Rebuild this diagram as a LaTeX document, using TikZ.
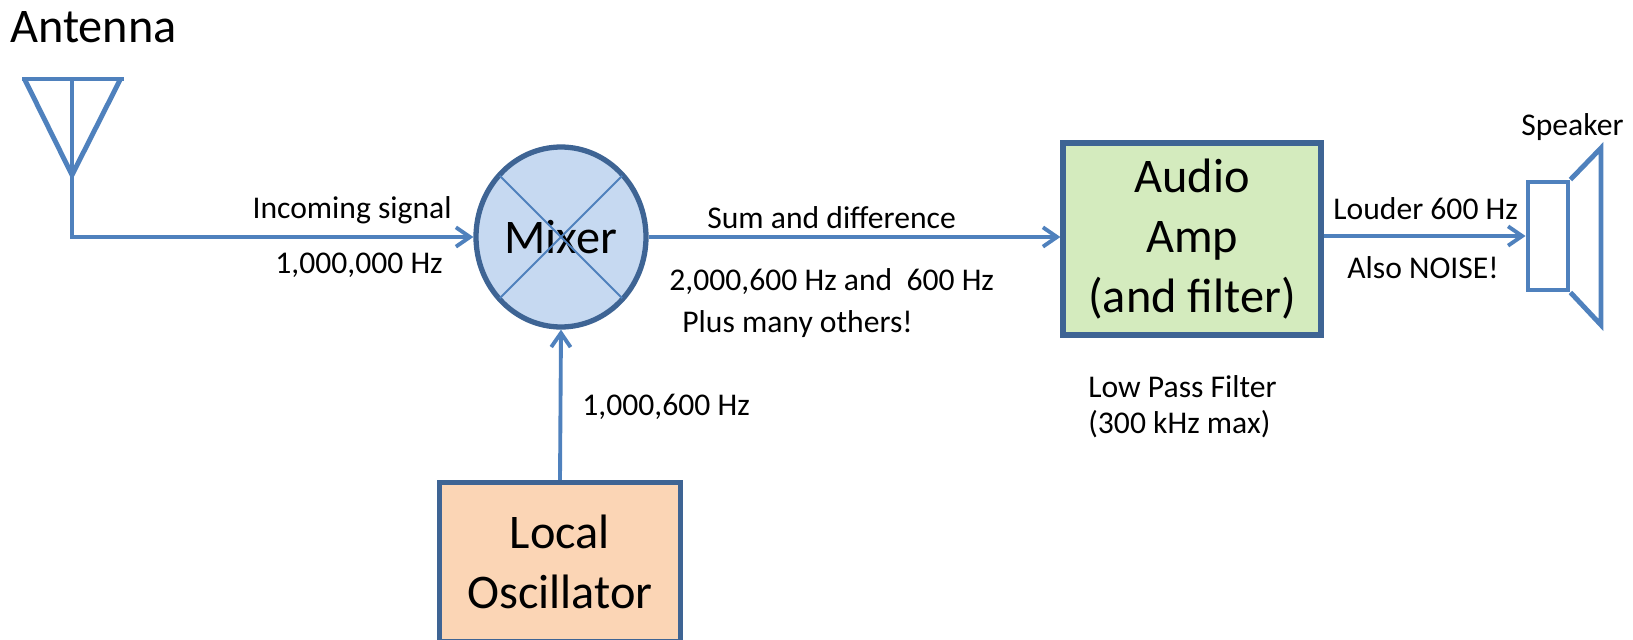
\documentclass[tikz,border=0pt]{standalone}
\usepackage{fontspec}
\setmainfont{Carlito}
\usetikzlibrary{arrows.meta,shapes.geometric}
\definecolor{lineblue}{HTML}{4F81BD}
\definecolor{edgeblue}{HTML}{3E6494}
\definecolor{mixfill}{HTML}{C6D9F1}
\definecolor{ampfill}{HTML}{D4EBBE}
\definecolor{oscfill}{HTML}{FBD5B5}
\begin{document}
\begin{tikzpicture}[x=0.02cm,y=-0.02cm,
  wire/.style={draw=lineblue,line width=2.8pt},
  sig/.style={draw=lineblue,line width=2.2pt,-{Straight Barb[length=8pt,width=11pt,line width=2.2pt]}},
  blk/.style={draw=edgeblue,line width=3pt,inner sep=0pt,align=center,font=\fontsize{27.5}{34}\selectfont},
  lbl/.style={inner sep=0pt,font=\fontsize{18}{20.4}\selectfont},
  big/.style={inner sep=0pt,font=\fontsize{27.5}{34}\selectfont}]
\useasboundingbox (0,0) rectangle (1633,639);
% blocks
\node[blk,ellipse,fill=mixfill,minimum width=3.4cm,minimum height=3.6cm] (mix) at (561,237) {Mixer};
\draw[lineblue,line width=1.1pt,shorten <=2pt,shorten >=2pt] (mix.135) -- (mix.-45);
\draw[lineblue,line width=1.1pt,shorten <=2pt,shorten >=2pt] (mix.45) -- (mix.-135);
\node[blk,fill=ampfill,minimum width=5.16cm,minimum height=3.84cm] (amp) at (1192,239) {Audio\\Amp\\(and filter)};
\node[blk,fill=oscfill,minimum width=4.82cm,minimum height=3.18cm] (osc) at (560,562) {Local\\Oscillator};
% antenna
\node[big,anchor=base west] (anttxt) at (10,42) {Antenna};
\coordinate (ant) at (72,237);
\draw[wire] (22,79) -- (124,79);
\draw[wire,line join=miter] (25,80) -- (72,175) -- (120,80);
\draw[wire] (72,79) -- (72,175);
% speaker
\node[draw=lineblue,line width=2.8pt,minimum width=0.8cm,minimum height=2.16cm] (spk) at (1548,236) {};
\draw[wire] (spk.north east) -- (1601,148) -- (1601,325) -- (spk.south east);
\node[lbl,anchor=base west] (spktxt) at (1521,135) {Speaker};
% connectors
\draw[sig] (72,79) -- (ant) -- (mix.west);
\draw[sig] (mix.east) -- (amp.west |- mix.east);
\draw[sig] (amp.east |- spk.west) -- (spk.west);
\draw[sig] (osc.north) -- (mix.south);
% labels
\node[lbl,anchor=base east] (inc) at (452,218) {Incoming signal};
\node[lbl,anchor=base east] (incf) at (443,273) {1,000,000 Hz};
\node[lbl,anchor=base west] (sum) at (707,228) {Sum and difference};
\node[lbl,anchor=base west] (sumf) at (669,290) {2,000,600 Hz and\ \ 600 Hz};
\node[lbl,anchor=base west] (plus) at (682,332) {Plus many others!};
\node[lbl,anchor=base west] (oscf) at (582,415) {1,000,600 Hz};
\node[lbl,anchor=base west] (loud) at (1333,219) {Louder 600 Hz};
\node[lbl,anchor=base west] (noise) at (1347,278) {Also NOISE!};
\node[lbl,anchor=west,align=left] (lpf) at (1088,407) {Low Pass Filter\\(300 kHz max)};
\end{tikzpicture}
\end{document}
